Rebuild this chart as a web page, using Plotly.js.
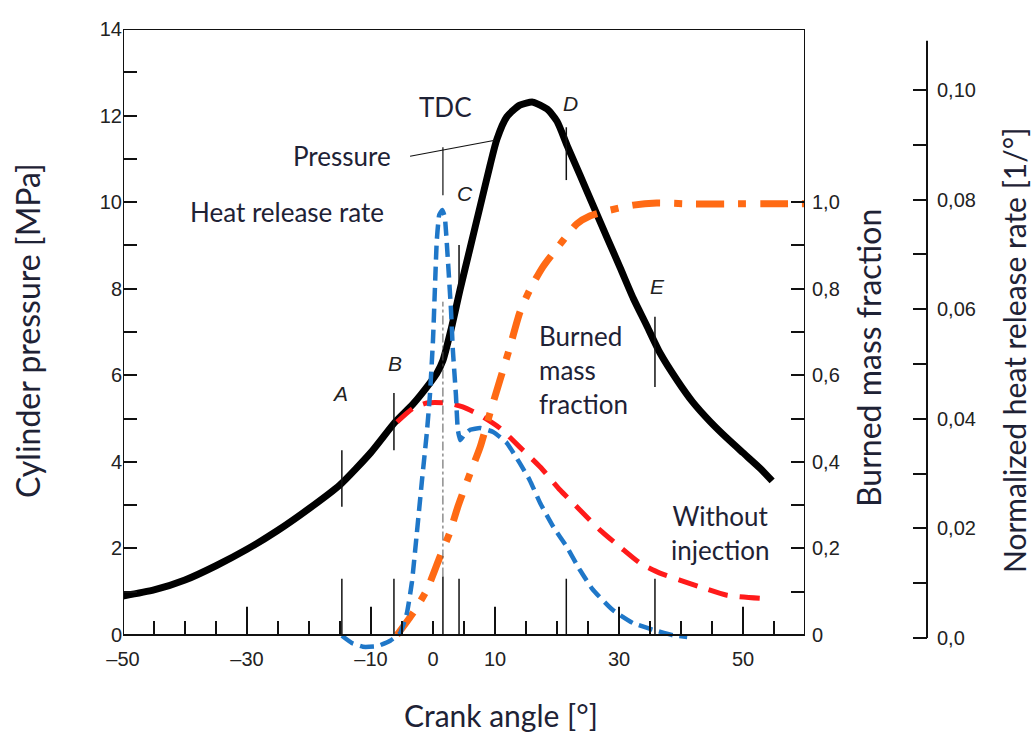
<!DOCTYPE html>
<html>
<head>
<meta charset="utf-8">
<script src="https://cdn.plot.ly/plotly-3.0.1.min.js"></script>
<style>
  html, body { margin: 0; padding: 0; background: #ffffff; }
  #chart { width: 1035px; height: 735px; }
</style>
</head>
<body>
<div id="chart"></div>
<script>
// ---------------- data ----------------
const pressureAngle = [-50, -45, -40, -35, -30, -25, -20, -15, -10, -6.1, -3.2, -0.5, 0.6, 1.6, 2.9, 4.4, 6.0, 7.6, 9.2, 10.3, 11.9, 14.0, 16.1, 18.4, 20.0, 21.6, 23.7, 25.8, 28.1, 30.2, 32.3, 34.5, 36.6, 39.4, 41.9, 44.7, 47.4, 50.0, 52.7, 54.7];
const pressureMPa   = [0.90, 1.04, 1.27, 1.60, 1.98, 2.42, 2.92, 3.47, 4.22, 4.92, 5.34, 5.82, 6.04, 6.34, 7.05, 8.00, 8.95, 9.90, 10.85, 11.45, 11.97, 12.24, 12.31, 12.15, 11.87, 11.32, 10.63, 9.93, 9.17, 8.48, 7.78, 7.14, 6.52, 5.88, 5.38, 4.93, 4.55, 4.21, 3.86, 3.56];

const motoredAngle = [-5.8, -3.2, -1.0, 2.3, 4.8, 7.6, 10.8, 14.0, 17.3, 20.5, 23.7, 26.9, 30.2, 33.4, 36.6, 39.8, 43.1, 47.4, 52.7];
const motoredMPa   = [4.92, 5.24, 5.36, 5.36, 5.27, 5.08, 4.78, 4.34, 3.88, 3.35, 2.89, 2.43, 2.03, 1.66, 1.43, 1.27, 1.11, 0.92, 0.85];

const hrrAngle = [-14.7, -13.1, -11.3, -9.0, -6.9, -5.3, -4.2, -3.4, -2.6, -1.8, -1.0, -0.5, 0.0, 0.3, 0.6, 1.0, 1.5, 1.9, 2.4, 2.9, 3.2, 3.7, 4.0, 4.4, 5.0, 6.0, 7.6, 9.7, 11.9, 14.0, 15.6, 17.3, 19.4, 21.6, 23.7, 25.8, 29.0, 32.3, 35.5, 38.7, 41.0];
const hrrValue = [0.0004, -0.0009, -0.0016, -0.0015, -0.0005, 0.0009, 0.0046, 0.0102, 0.0192, 0.0285, 0.0374, 0.0443, 0.0544, 0.0635, 0.0723, 0.0772, 0.0781, 0.0768, 0.0690, 0.0599, 0.0526, 0.0443, 0.0380, 0.0361, 0.0370, 0.0380, 0.0383, 0.0376, 0.0356, 0.0319, 0.0288, 0.0246, 0.0203, 0.0166, 0.0124, 0.0088, 0.0051, 0.0027, 0.0015, 0.0005, 0.0002];

const mfbAngle = [-5.8, -3.2, -1.0, 1.1, 2.7, 4.0, 6.0, 7.6, 9.2, 10.8, 12.4, 14.0, 15.6, 17.7, 21.0, 23.2, 25.3, 28.1, 32.3, 36.1, 41.5, 48.4, 55.5, 60.0];
const mfbValue = [0.0, 0.051, 0.104, 0.180, 0.236, 0.296, 0.374, 0.434, 0.513, 0.589, 0.665, 0.745, 0.797, 0.850, 0.912, 0.950, 0.968, 0.980, 0.993, 0.998, 0.996, 0.996, 0.996, 0.996];

// characteristic points A..E and TDC
const markerLabels = ['A', 'B', 'C', 'D', 'E'];
const markerAngles = [-14.7, -6.3, 4.2, 21.5, 35.8];
const markerSpanLow  = [2.96, 4.27, 7.97, 10.51, 5.73];
const markerSpanHigh = [4.27, 5.59, 9.01, 11.73, 7.35];
const markerLabelAngle = [-15.0, -6.1, 5.2, 22.1, 36.2];
const markerLabelMPa   = [5.59, 6.28, 10.21, 12.29, 8.04];
const tdcAngle = 1.6;

// tick labels
const xTickVals = [-50, -30, -10, 0, 10, 30, 50];
const xTickText = ['\u201350', '\u201330', '\u201310', '0', '10', '30', '50'];
const xMediumTicks = [-30, -10, 10, 30, 50];
const yTickVals = [0, 1, 2, 3, 4, 5, 6, 7, 8, 9, 10, 11, 12, 13, 14];
const yTickText = ['0', '', '2', '', '4', '', '6', '', '8', '', '10', '', '12', '', '14'];
const y2TickVals = [0, 0.1, 0.2, 0.3, 0.4, 0.5, 0.6, 0.7, 0.8, 0.9, 1.0];
const y2TickText = ['0', '', '0,2', '', '0,4', '', '0,6', '', '0,8', '', '1,0'];
const y3TickVals = [0, 0.01, 0.02, 0.03, 0.04, 0.05, 0.06, 0.07, 0.08, 0.09, 0.10];
const y3TickText = ['0,0', '', '0,02', '', '0,04', '', '0,06', '', '0,08', '', '0,10'];

// ---------------- layout helpers ----------------
const W = 1035, H = 735;
const M = {l: 123, r: 108, t: 29, b: 85};
const PW = W - M.l - M.r, PH = H - M.t - M.b;
const pxX = x => (x - M.l) / PW;
const pxY = y => (H - M.b - y) / PH;
const ink = '#111111';
const textColor = '#1e2235';
const tickFont = {family: 'Liberation Sans, Arial, sans-serif', size: 20, color: '#222222'};
const labelFont = {family: 'Lato, sans-serif', size: 26, color: textColor};
const titleFont = {family: 'Lato, sans-serif', size: 32, color: textColor};
const titleFontSmall = {family: 'Lato, sans-serif', size: 30, color: textColor};

const traces = [
  {x: mfbAngle, y: mfbValue, yaxis: 'y2', type: 'scatter', mode: 'lines',
   line: {color: '#ff6a14', width: 7, dash: '28px,14px,8px,14px', shape: 'spline', smoothing: 0.6}},
  {x: hrrAngle, y: hrrValue, yaxis: 'y3', type: 'scatter', mode: 'lines',
   line: {color: '#1f77c8', width: 4.5, dash: '14px,7px', shape: 'spline', smoothing: 0.4}},
  {x: pressureAngle, y: pressureMPa, yaxis: 'y', type: 'scatter', mode: 'lines',
   line: {color: '#000000', width: 7, shape: 'spline', smoothing: 0.6}},
  {x: motoredAngle, y: motoredMPa, yaxis: 'y', type: 'scatter', mode: 'lines',
   line: {color: '#ff1a1a', width: 5, dash: '20px,12px', shape: 'spline', smoothing: 0.6}}
];

const shapes = [];
// frame
shapes.push({type: 'rect', xref: 'x', yref: 'y', x0: -50, x1: 60, y0: 0, y1: 14, line: {color: ink, width: 2}, layer: 'above'});
// separate heat-release axis line
shapes.push({type: 'line', xref: 'paper', yref: 'y3', x0: 1, x1: 1, y0: 0, y1: 0.109, line: {color: ink, width: 2}});
// medium ticks on the crank angle axis
xMediumTicks.forEach(a => shapes.push({type: 'line', xref: 'x', yref: 'y', x0: a, x1: a, y0: 0, y1: 0.65, line: {color: ink, width: 2}}));
// characteristic points
markerAngles.forEach((a, i) => {
  shapes.push({type: 'line', xref: 'x', yref: 'y', x0: a, x1: a, y0: 0, y1: 1.3, line: {color: ink, width: 1.5}});
  shapes.push({type: 'line', xref: 'x', yref: 'y', x0: a, x1: a, y0: markerSpanLow[i], y1: markerSpanHigh[i], line: {color: ink, width: 1.5}});
});
// TDC
shapes.push({type: 'line', xref: 'x', yref: 'y', x0: tdcAngle, x1: tdcAngle, y0: 0, y1: 1.35, line: {color: ink, width: 1.5}});
shapes.push({type: 'line', xref: 'x', yref: 'y', x0: tdcAngle, x1: tdcAngle, y0: 1.35, y1: 7.7, line: {color: '#555555', width: 1, dash: 'dashdot'}});
shapes.push({type: 'line', xref: 'x', yref: 'y', x0: tdcAngle, x1: tdcAngle, y0: 10.16, y1: 11.27, line: {color: ink, width: 1.2}});
// pointer from "Pressure" label
shapes.push({type: 'line', xref: 'x', yref: 'y', x0: -3.7, x1: 10.0, y0: 11.06, y1: 11.43, line: {color: ink, width: 1.2}});

const annotations = [
  {text: 'TDC', x: pxX(445), y: pxY(107)},
  {text: 'Pressure', x: pxX(342), y: pxY(156)},
  {text: 'Heat release rate', x: pxX(287), y: pxY(212)},
  {text: 'Burned<br>mass<br>fraction', x: pxX(537), y: pxY(370), xanchor: 'left', align: 'left'},
  {text: 'Without<br>injection', x: pxX(720), y: pxY(533), align: 'center'}
].map(a => Object.assign({xref: 'paper', yref: 'paper', showarrow: false, font: labelFont, xanchor: 'center', yanchor: 'middle'}, a));

markerLabels.forEach((t, i) => annotations.push({
  text: t, x: markerLabelAngle[i], y: markerLabelMPa[i], xref: 'x', yref: 'y', showarrow: false,
  font: {family: 'Liberation Sans, Arial, sans-serif', size: 21, color: '#222222', style: 'italic'},
  xanchor: 'center', yanchor: 'middle'
}));

// axis titles
annotations.push({text: 'Cylinder pressure [MPa]', x: pxX(27), y: pxY(331), xref: 'paper', yref: 'paper', showarrow: false, textangle: -90, font: titleFont, xanchor: 'center', yanchor: 'middle'});
annotations.push({text: 'Crank angle [\u00b0]', x: pxX(501), y: pxY(715), xref: 'paper', yref: 'paper', showarrow: false, font: titleFontSmall, xanchor: 'center', yanchor: 'middle'});
annotations.push({text: 'Burned mass fraction', x: pxX(868), y: pxY(358), xref: 'paper', yref: 'paper', showarrow: false, textangle: -90, font: titleFont, xanchor: 'center', yanchor: 'middle'});
annotations.push({text: 'Normalized heat release rate [1/\u00b0]', x: pxX(1014), y: pxY(350), xref: 'paper', yref: 'paper', showarrow: false, textangle: -90, font: titleFontSmall, xanchor: 'center', yanchor: 'middle'});

const yBottom = -(H - M.b - 635) / ((635 - 29) / 14);   // pressure value at the plot-area bottom
const layout = {
  width: W, height: H,
  margin: M,
  paper_bgcolor: '#ffffff', plot_bgcolor: '#ffffff',
  showlegend: false,
  xaxis: {
    domain: [0, pxX(805)], range: [-50, 60], anchor: 'free', position: pxY(635),
    showgrid: false, zeroline: false, showline: false,
    tickmode: 'array', tickvals: xTickVals, ticktext: xTickText,
    ticks: 'inside', ticklen: 14, tickwidth: 2, tickcolor: ink, tickfont: tickFont, ticklabelstandoff: 10,
    minor: {tickmode: 'linear', tick0: -50, dtick: 5, ticks: 'inside', ticklen: 14, tickwidth: 2, tickcolor: ink, showgrid: false}
  },
  yaxis: {
    domain: [0, 1], range: [yBottom, 14], anchor: 'x',
    showgrid: false, zeroline: false, showline: false,
    tickmode: 'array', tickvals: yTickVals, ticktext: yTickText,
    ticks: 'inside', ticklen: 14, tickwidth: 2, tickcolor: ink, tickfont: tickFont, ticklabelstandoff: 0
  },
  yaxis2: {
    overlaying: 'y', side: 'right', anchor: 'x', range: [yBottom / 10, 1.4],
    showgrid: false, zeroline: false, showline: false,
    tickmode: 'array', tickvals: y2TickVals, ticktext: y2TickText,
    ticks: 'inside', ticklen: 14, tickwidth: 2, tickcolor: ink, tickfont: tickFont, ticklabelstandoff: 6
  },
  yaxis3: {
    overlaying: 'y', side: 'right', anchor: 'free', position: 1,
    range: [-(H - M.b - 638) / 5480, (638 - 29) / 5480],
    showgrid: false, zeroline: false, showline: false,
    tickmode: 'array', tickvals: y3TickVals, ticktext: y3TickText,
    ticks: 'inside', ticklen: 14, tickwidth: 2, tickcolor: ink, tickfont: tickFont, ticklabelstandoff: 9
  },
  shapes: shapes,
  annotations: annotations
};

Plotly.newPlot('chart', traces, layout, {staticPlot: true, displayModeBar: false});
</script>
</body>
</html>
